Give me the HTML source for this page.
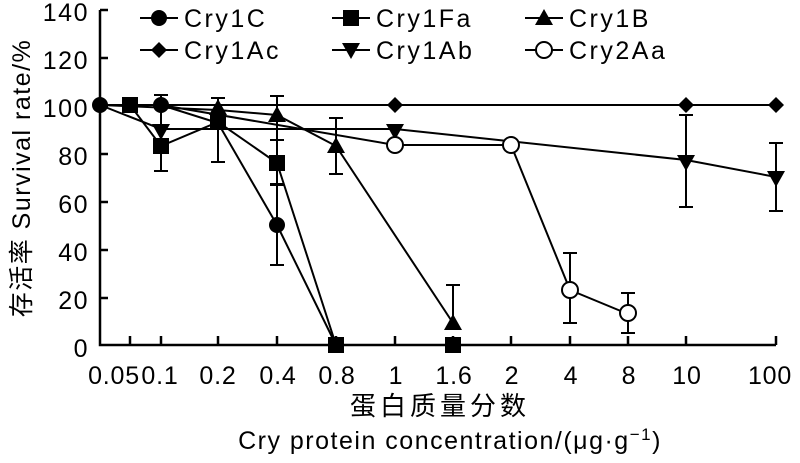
<!DOCTYPE html>
<html><head><meta charset="utf-8"><style>
body{margin:0;background:#fff}
svg text{font-family:"Liberation Sans","Noto Sans CJK SC",sans-serif;fill:#000}
</style></head><body>
<svg width="800" height="458" viewBox="0 0 800 458" xmlns="http://www.w3.org/2000/svg">
<defs>
<circle id="ci" r="8" fill="#000"/>
<rect id="sq" x="-8" y="-8" width="16" height="16" fill="#000"/>
<polygon id="tu" points="0,-9 9,7 -9,7" fill="#000"/>
<polygon id="td" points="0,9 9,-7 -9,-7" fill="#000"/>
<polygon id="di" points="0,-8 8,0 0,8 -8,0" fill="#000"/>
<circle id="oc" r="8" fill="#fff" stroke="#000" stroke-width="2"/>
</defs>
<g stroke="#000" stroke-width="2.5" fill="none">
<path d="M100,10 V345 H776"/>
<path d="M100,10 h8 M100,58 h8 M100,106 h8 M100,154 h8 M100,202 h8 M100,250 h8 M100,298 h8"/>
<path d="M130,345 v-9 M161,345 v-9 M218,345 v-9 M277,345 v-9 M336,345 v-9 M395,345 v-9 M453,345 v-9 M511,345 v-9 M570,345 v-9 M628,345 v-9 M686,345 v-9 M776,345 v-9"/>
</g>
<g font-size="25" letter-spacing="1.5" text-anchor="end">
<text x="89" y="21">140</text><text x="89" y="69">120</text><text x="89" y="117">100</text><text x="89" y="165">80</text><text x="89" y="213">60</text><text x="89" y="261">40</text><text x="89" y="309">20</text><text x="89" y="357">0</text>
</g>
<g font-size="25" letter-spacing="0.8" text-anchor="middle">
<text x="114" y="384">0.05</text><text x="160" y="384">0.1</text><text x="218" y="384">0.2</text><text x="278" y="384">0.4</text><text x="337" y="384">0.8</text><text x="396" y="384">1</text><text x="454" y="384">1.6</text><text x="512" y="384">2</text><text x="571" y="384">4</text><text x="629" y="384">8</text><text x="687" y="384">10</text><text x="770" y="384">100</text>
</g>
<text x="440" y="415" font-size="26" letter-spacing="4" text-anchor="middle">蛋白质量分数</text>
<text x="450" y="449" font-size="25" letter-spacing="1.5" text-anchor="middle">Cry protein concentration/(μg·g<tspan dy="-9" font-size="17">−1</tspan><tspan dy="9">)</tspan></text>
<text transform="translate(30,178) rotate(-90)" font-size="25" letter-spacing="1.5" text-anchor="middle">存活率 Survival rate/%</text>
<g stroke="#000" stroke-width="2" fill="none">
<polyline points="100,105 776,105"/>
<polyline points="100,105 161,129 395,129 686,160 776,177"/>
<polyline points="100,105 161,105 395,145 511,145 570,290 628,314"/>
<polyline points="100,105 161,105 218,123 277,225 336,345"/>
<polyline points="100,105 130,105 161,146 218,122 277,163 336,345"/>
<polyline points="100,105 218,110 277,115 336,146 453,323"/>
<path d="M161,95 v76 M154,95 h14 M154,171 h14"/>
<path d="M218,98 v64 M211,98 h14 M211,162 h14"/>
<path d="M277,96 v48 M270,96 h14"/>
<path d="M277,140 v44 M270,140 h14 M270,184 h14"/>
<path d="M277,185 v80 M270,265 h14 M270,185 h14"/>
<path d="M336,118 v56 M329,118 h14 M329,174 h14"/>
<path d="M453,285 v40 M446,285 h14"/>
<path d="M686,115 v92 M679,115 h14 M679,207 h14"/>
<path d="M776,143 v68 M769,143 h14 M769,211 h14"/>
<path d="M570,253 v70 M563,253 h14 M563,323 h14"/>
<path d="M628,293 v40 M621,293 h14 M621,333 h14"/>
</g>
<use href="#di" x="395" y="105"/><use href="#di" x="686" y="105"/><use href="#di" x="776" y="105"/>
<use href="#td" x="161" y="131"/><use href="#td" x="395" y="131"/><use href="#td" x="686" y="162"/><use href="#td" x="776" y="178"/>
<use href="#oc" x="395" y="145"/><use href="#oc" x="511" y="145"/><use href="#oc" x="570" y="290"/><use href="#oc" x="628" y="313"/>
<use href="#sq" x="130" y="105"/><use href="#sq" x="161" y="146"/><use href="#sq" x="218" y="122"/><use href="#sq" x="277" y="163"/><use href="#sq" x="336" y="345"/><use href="#sq" x="453" y="345"/>
<use href="#tu" x="218" y="108"/><use href="#tu" x="277" y="115"/><use href="#tu" x="336" y="146"/><use href="#tu" x="453" y="323"/>
<use href="#ci" x="100" y="105"/><use href="#ci" x="161" y="105"/><use href="#ci" x="277" y="225"/>
<g stroke="#000" stroke-width="2"><path d="M140,18 h38 M332,18 h38 M525,18 h38 M140,50 h38 M332,50 h38 M525,50 h38"/></g>
<use href="#ci" x="159" y="18"/><use href="#sq" x="351" y="18"/><use href="#tu" x="544" y="18"/>
<use href="#di" x="159" y="50"/><use href="#td" x="351" y="50"/><use href="#oc" x="544" y="50"/>
<g font-size="25" letter-spacing="2.5">
<text x="184" y="27">Cry1C</text><text x="376" y="27">Cry1Fa</text><text x="569" y="27">Cry1B</text>
<text x="184" y="59">Cry1Ac</text><text x="376" y="59">Cry1Ab</text><text x="569" y="59">Cry2Aa</text>
</g>
</svg>
</body></html>
